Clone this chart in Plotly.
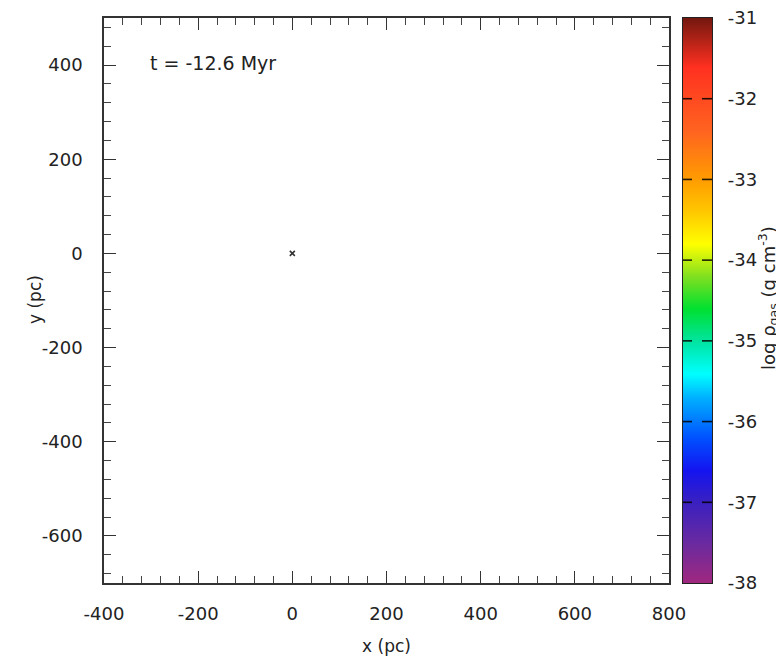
import plotly.graph_objects as go

# ---- data ----
point_x = [0]
point_y = [0]
x_range = [-400, 800]
y_range = [-700, 500]
major_ticks_x = [-400, -200, 0, 200, 400, 600, 800]
major_ticks_y = [-600, -400, -200, 0, 200, 400]
cbar_min, cbar_max = -38, -31
cbar_ticks = [-38, -37, -36, -35, -34, -33, -32, -31]
time_label = "t = -12.6 Myr"

colorscale = [
    [0.000, "#a0287e"],
    [0.071, "#6a2aa0"],
    [0.143, "#3a20c0"],
    [0.200, "#1414f0"],
    [0.257, "#0050ff"],
    [0.329, "#00b0ff"],
    [0.371, "#00ffff"],
    [0.429, "#00e4a0"],
    [0.486, "#00e030"],
    [0.543, "#80e020"],
    [0.600, "#ffff00"],
    [0.657, "#ffc800"],
    [0.714, "#ff9c00"],
    [0.800, "#ff6420"],
    [0.914, "#ff3020"],
    [1.000, "#74180f"],
]

W, H = 776, 659
L, T, B = 104, 18, 76
R = 0
paper_w = W - L - R
plot_h = H - T - B
main_right_px = 669
cb_left_px, cb_right_px = 683, 712
cb_w = cb_right_px - cb_left_px

font = "DejaVu Sans, Verdana, sans-serif"
txt_col = "#222"


def lbl(v):
    return str(v)


fig = go.Figure()

fig.add_trace(go.Scatter(
    x=point_x, y=point_y, mode="markers",
    marker=dict(symbol="x-thin", size=5, line=dict(width=1.6, color="#333")),
    showlegend=False, hoverinfo="skip", xaxis="x", yaxis="y"))

# colour bar drawn as a smooth heatmap of the tick values on its own axes
fig.add_trace(go.Heatmap(
    x=[0, 1], y=cbar_ticks, z=[[v, v] for v in cbar_ticks],
    zmin=cbar_min, zmax=cbar_max, colorscale=colorscale, zsmooth="best",
    showscale=False, hoverinfo="skip", xaxis="x2", yaxis="y2"))

# dashed tick marks across the bar: a left and a right dash per tick
for v in cbar_ticks[1:-1]:
    for a, b in ((0, 9 / cb_w), (19 / cb_w, 1)):
        fig.add_shape(type="line", xref="x2 domain", yref="y2",
                      x0=a, x1=b, y0=v, y1=v,
                      line=dict(color="rgba(0,0,0,0.85)", width=1.6))

fig.add_annotation(text=time_label, xref="paper", yref="paper",
                   x=(148 - L) / paper_w, y=(H - B - 63) / plot_h,
                   xanchor="left", yanchor="middle", showarrow=False,
                   font=dict(family=font, size=19, color=txt_col))

fig.add_annotation(text="y (pc)", xref="paper", yref="paper",
                   x=(35 - L) / paper_w, y=(H - B - 300) / plot_h,
                   xanchor="center", yanchor="middle", showarrow=False,
                   textangle=-90,
                   font=dict(family=font, size=17, color=txt_col))

fig.add_annotation(text="log ρ<sub>gas</sub> (g cm<sup>-3</sup>)",
                   xref="paper", yref="paper",
                   x=(753 - L) / paper_w, y=(H - B - 298) / plot_h,
                   xanchor="left", yanchor="middle", showarrow=False,
                   textangle=-90,
                   font=dict(family=font, size=18, color=txt_col))

axis_common = dict(
    showgrid=False, zeroline=False, showline=True, linecolor="#333", linewidth=1.5,
    mirror="allticks", ticks="inside", ticklen=12, tickwidth=1.3, tickcolor="#333",
    tickfont=dict(family=font, size=18, color=txt_col),
    minor=dict(ticks="inside", ticklen=7, tickwidth=1, tickcolor="#444", dtick=40),
)

fig.update_layout(
    width=W, height=H,
    margin=dict(l=L, r=R, t=T, b=B, autoexpand=False),
    paper_bgcolor="white", plot_bgcolor="white",
    xaxis=dict(domain=[0, (main_right_px - L) / paper_w], range=x_range,
               tickvals=major_ticks_x, ticktext=[lbl(v) for v in major_ticks_x],
               ticklabelstandoff=14,
               title=dict(text="x (pc)", font=dict(family=font, size=17, color=txt_col), standoff=17),
               **axis_common),
    yaxis=dict(domain=[0, 1], range=y_range, anchor="x",
               tickvals=major_ticks_y, ticktext=[lbl(v) for v in major_ticks_y],
               ticklabelstandoff=16, **axis_common),
    xaxis2=dict(domain=[(cb_left_px - L) / paper_w, (cb_right_px - L) / paper_w],
                range=[0, 1], anchor="y2", showgrid=False, zeroline=False,
                showticklabels=False, ticks="", showline=True, mirror=True,
                linecolor="#222", linewidth=1.2),
    yaxis2=dict(domain=[0, 1], range=[cbar_min, cbar_max], anchor="x2", side="right",
                showgrid=False, zeroline=False, showline=True, mirror=True,
                linecolor="#222", linewidth=1.2,
                tickvals=cbar_ticks, ticktext=[lbl(v) for v in cbar_ticks],
                ticks="", ticklabelstandoff=11,
                tickfont=dict(family=font, size=18, color=txt_col)),
)

fig.write_html("out.html")
